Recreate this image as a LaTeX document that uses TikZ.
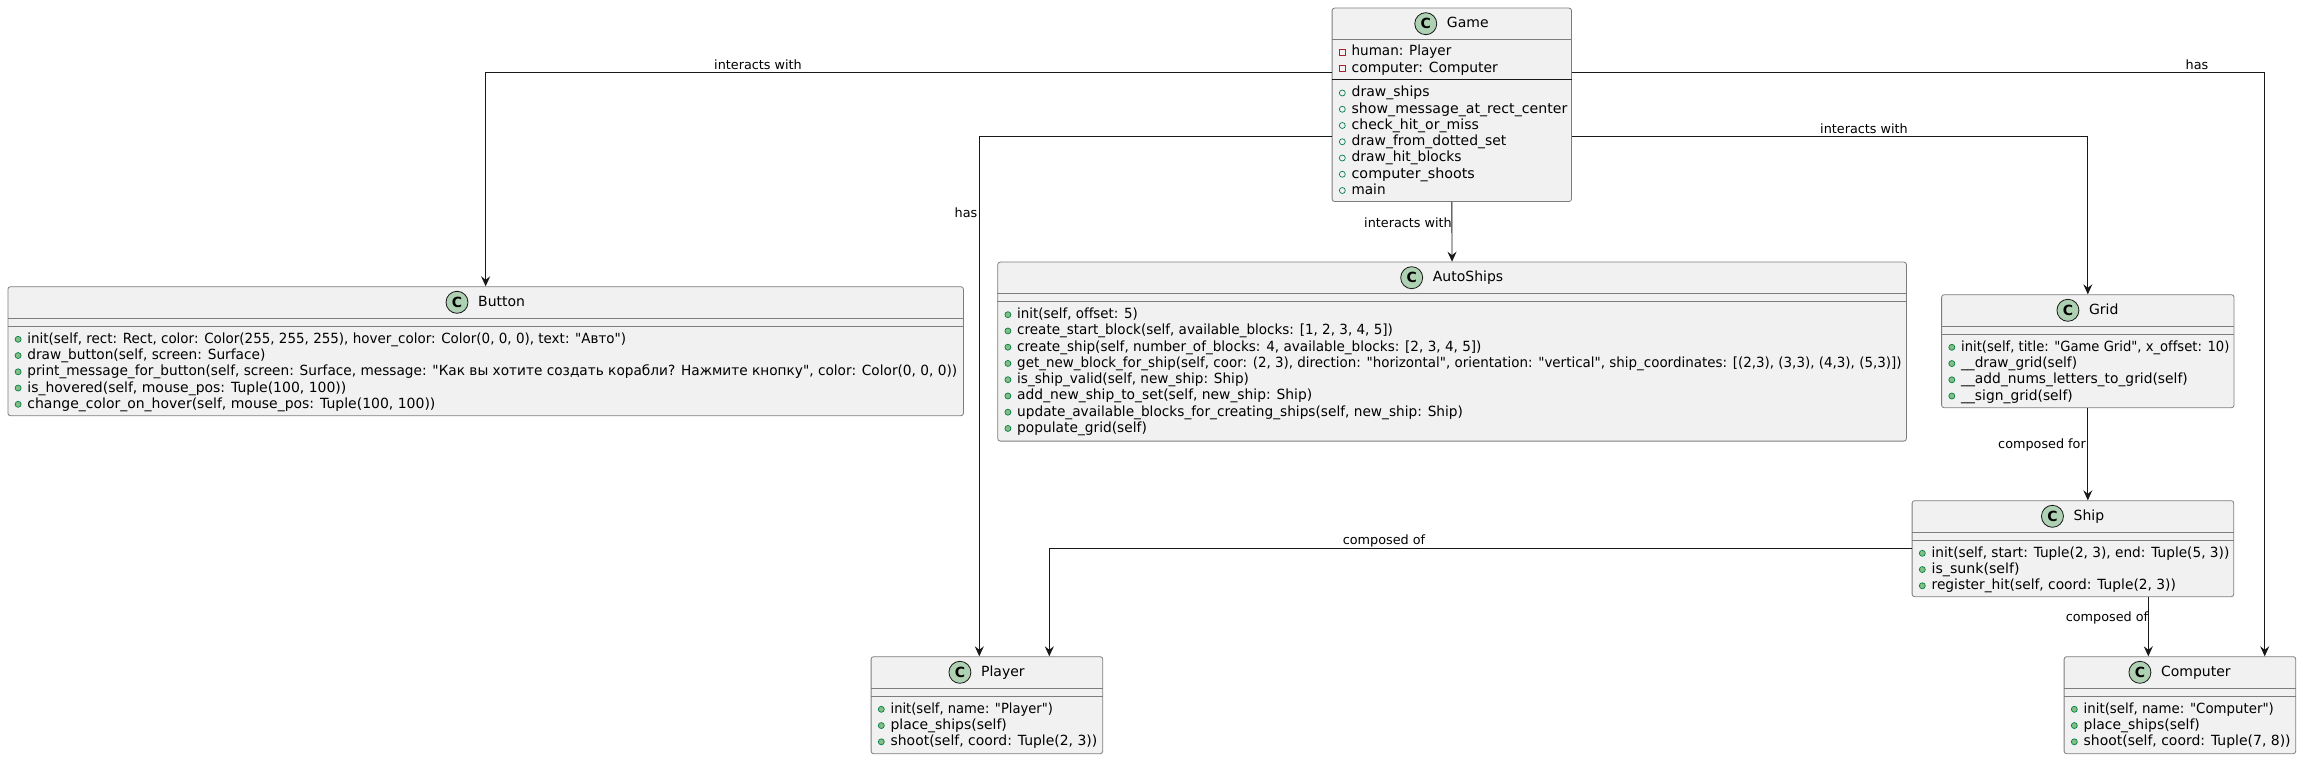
\documentclass[tikz,border=0pt]{standalone}
\usepackage{graphicx}
\usepackage{fontspec}
\setmainfont[Ligatures={TeXOff,CommonOff}]{DejaVu Sans}
\usetikzlibrary{arrows.meta, positioning, calc}
\definecolor{boxfill}{RGB}{241, 241, 241}
\definecolor{boxline}{RGB}{125, 125, 125}
\definecolor{darkline}{RGB}{24, 24, 24}
\definecolor{badgegreen}{RGB}{173, 209, 178}
\definecolor{pubgreen}{RGB}{3, 128, 72}
\definecolor{pubfill}{RGB}{132, 190, 132}
\definecolor{privred}{RGB}{173, 33, 45}

% header of a class: title, badge and the two separator lines
\newcommand{\classhead}[4][boxline]{
  \node (#2T) [classtitle] at ($(#2.north)+(16,20)$) {#3};
  \node (#2C) [badge] at ($(#2T.west |- #2.north)+(-21,16)$) {C};
  \draw [sepline] ($(#2.north west)+(0,32)$) -- ($(#2.north east)+(0,32)$);
  \draw [sepline, draw=#1] ($(#2.north west)+(0,32+#4)$) -- ($(#2.north east)+(0,32+#4)$);
}
% rows of a class: icon style, class, first baseline, width/text pairs
\newcommand{\memberrows}[4]{
  \foreach \rowink/\txt [count=\n] in {#4} {
    \pgfmathsetmacro{\rowwd}{\rowink+2}
    \node (#2-#1-\n) [member] at ($(#2.north west)+(19.7,{#3+16.25*(\n-1)})$) {\resizebox{\rowwd pt}{\height}{\txt}};
    \node (#2-#1-i\n) [#1] at ($(#2-#1-\n.base west)+(-9.1,-4)$) {};
  }
}

\begin{document}
\begin{tikzpicture}[
    x=1pt, y=-1pt,
    classbox/.style={draw=boxline, fill=boxfill, line width=0.8pt, rounded corners=2.5pt, anchor=north west, inner sep=0pt},
    classtitle/.style={font=\fontsize{14}{16}\selectfont, inner sep=0pt, anchor=base},
    badge/.style={circle, draw=darkline, fill=badgegreen, line width=0.8pt, minimum size=22pt, inner sep=0pt, font=\fontsize{14}{16}\selectfont\bfseries},
    sepline/.style={draw=boxline, line width=0.8pt},
    member/.style={font=\fontsize{14}{16}\selectfont, inner sep=0pt, anchor=base west},
    pub/.style={circle, draw=pubgreen, fill=pubfill, line width=0.7pt, minimum size=6pt, inner sep=0pt},
    pubf/.style={circle, draw=pubgreen, line width=0.7pt, minimum size=6pt, inner sep=0pt},
    priv/.style={rectangle, draw=privred, line width=0.8pt, minimum size=6pt, inner sep=0pt},
    arrow/.style={-{Stealth[length=10pt, width=9pt, inset=3.5pt]}, line width=0.9pt, darkline},
    edgelabel/.style={font=\fontsize{12.8}{15}\selectfont, inner sep=0pt, text=black}
]
\useasboundingbox (0,0) rectangle (2301,759);

% 1. Game
\node (game) [classbox, minimum width=239.4pt, minimum height=193.4pt] at (1331.7,7.7) {};
\classhead[darkline]{game}{Game}{40}
\memberrows{priv}{game}{48.3}{97.7/{human: Player}, 144.3/{computer: Computer}}
\memberrows{pubf}{game}{89.3}{
  76/{draw\_ships},
  213.7/{show\_message\_at\_rect\_center},
  125.3/{check\_hit\_or\_miss},
  152.7/{draw\_from\_dotted\_set},
  108/{draw\_hit\_blocks},
  121.3/{computer\_shoots},
  32/{main}}

% 2. Button
\node (button) [classbox, minimum width=955.5pt, minimum height=129pt] at (7.5,286.3) {};
\classhead{button}{Button}{8}
\memberrows{pub}{button}{57}{
  596.7/{init(self, rect: Rect, color: Color(255, 255, 255), hover\_color: Color(0, 0, 0), text: "Авто")},
  236/{draw\_button(self, screen: Surface)},
  927.7/{print\_message\_for\_button(self, screen: Surface, message: "Как вы хотите создать корабли? Нажмите кнопку", color: Color(0, 0, 0))},
  317/{is\_hovered(self, mouse\_pos: Tuple(100, 100))},
  406/{change\_color\_on\_hover(self, mouse\_pos: Tuple(100, 100))}}

% 3. AutoShips
\node (autoships) [classbox, minimum width=908.7pt, minimum height=179pt] at (997.3,261.7) {};
\classhead{autoships}{AutoShips}{8}
\memberrows{pub}{autoships}{57}{
  118.7/{init(self, offset: 5)},
  373.7/{create\_start\_block(self, available\_blocks: [1, 2, 3, 4, 5])},
  462.3/{create\_ship(self, number\_of\_blocks: 4, available\_blocks: [2, 3, 4, 5])},
  882.3/{get\_new\_block\_for\_ship(self, coor: (2, 3), direction: "horizontal", orientation: "vertical", ship\_coordinates: [(2,3), (3,3), (4,3), (5,3)])},
  229.7/{is\_ship\_valid(self, new\_ship: Ship)},
  293/{add\_new\_ship\_to\_set(self, new\_ship: Ship)},
  443.7/{update\_available\_blocks\_for\_creating\_ships(self, new\_ship: Ship)},
  127.7/{populate\_grid(self)}}

% 4. Grid
\node (grid) [classbox, minimum width=292.4pt, minimum height=113pt] at (1941.2,294.3) {};
\classhead{grid}{Grid}{8}
\memberrows{pub}{grid}{57}{
  266.3/{init(self, title: "Game Grid", x\_offset: 10)},
  114/{\_\_draw\_grid(self)},
  224.7/{\_\_add\_nums\_letters\_to\_grid(self)},
  109.7/{\_\_sign\_grid(self)}}

% 5. Ship
\node (ship) [classbox, minimum width=321.6pt, minimum height=96pt] at (1911.7,500.3) {};
\classhead{ship}{Ship}{8}
\memberrows{pub}{ship}{57}{
  295.7/{init(self, start: Tuple(2, 3), end: Tuple(5, 3))},
  86/{is\_sunk(self)},
  242.3/{register\_hit(self, coord: Tuple(2, 3))}}

% 6. Player
\node (player) [classbox, minimum width=231.6pt, minimum height=97pt] at (870.7,656.3) {};
\classhead{player}{Player}{8}
\memberrows{pub}{player}{57}{
  160.3/{init(self, name: "Player")},
  114.3/{place\_ships(self)},
  204.7/{shoot(self, coord: Tuple(2, 3))}}

% 7. Computer
\node (computer) [classbox, minimum width=231.6pt, minimum height=97pt] at (2063.7,656.3) {};
\classhead{computer}{Computer}{8}
\memberrows{pub}{computer}{57}{
  188.3/{init(self, name: "Computer")},
  114.3/{place\_ships(self)},
  205/{shoot(self, coord: Tuple(7, 8))}}

% Connector ends
\coordinate (gameWu) at ($(game.north west)+(0,64.3)$);
\coordinate (gameEu) at ($(game.north east)+(0,64.3)$);
\coordinate (gameWd) at ($(game.north west)+(0,128.6)$);
\coordinate (gameEd) at ($(game.north east)+(0,128.6)$);
\coordinate (shipW) at ($(ship.north west)+(0,47.7)$);
\coordinate (playerTa) at ($(player.north west)+(108.6,0)$);
\coordinate (playerTb) at ($(player.north west)+(178.6,0)$);
\coordinate (computerTa) at ($(computer.north west)+(84.6,0)$);
\coordinate (computerTb) at ($(computer.north west)+(201,0)$);

% Connectors
\draw [arrow] (gameWu) -| (button.north);
\draw [arrow] (gameEu) -| (computerTb);
\draw [arrow] (gameWd) -| (playerTa);
\draw [arrow] (gameEd) -| (grid.north);
\draw [arrow] (game.south) -- (autoships.north);
\draw [arrow] (grid.south) -- (grid.south |- ship.north);
\draw [arrow] (shipW) -| (playerTb);
\draw [arrow] (computerTa |- ship.south) -- (computerTa);

% Labels
\node (lab1) [edgelabel] at (758,65) {interacts with};
\node (lab2) [edgelabel] at (2197,65) {has};
\node (lab3) [edgelabel] at (966,213) {has};
\node (lab4) [edgelabel] at (1864,129) {interacts with};
\node (lab5) [edgelabel] at (1408,223) {interacts with};
\node (lab6) [edgelabel] at (2042,445) {composed for};
\node (lab7) [edgelabel] at (1384,541) {composed of};
\node (lab8) [edgelabel] at (2107,618) {composed of};

\end{tikzpicture}
\end{document}
